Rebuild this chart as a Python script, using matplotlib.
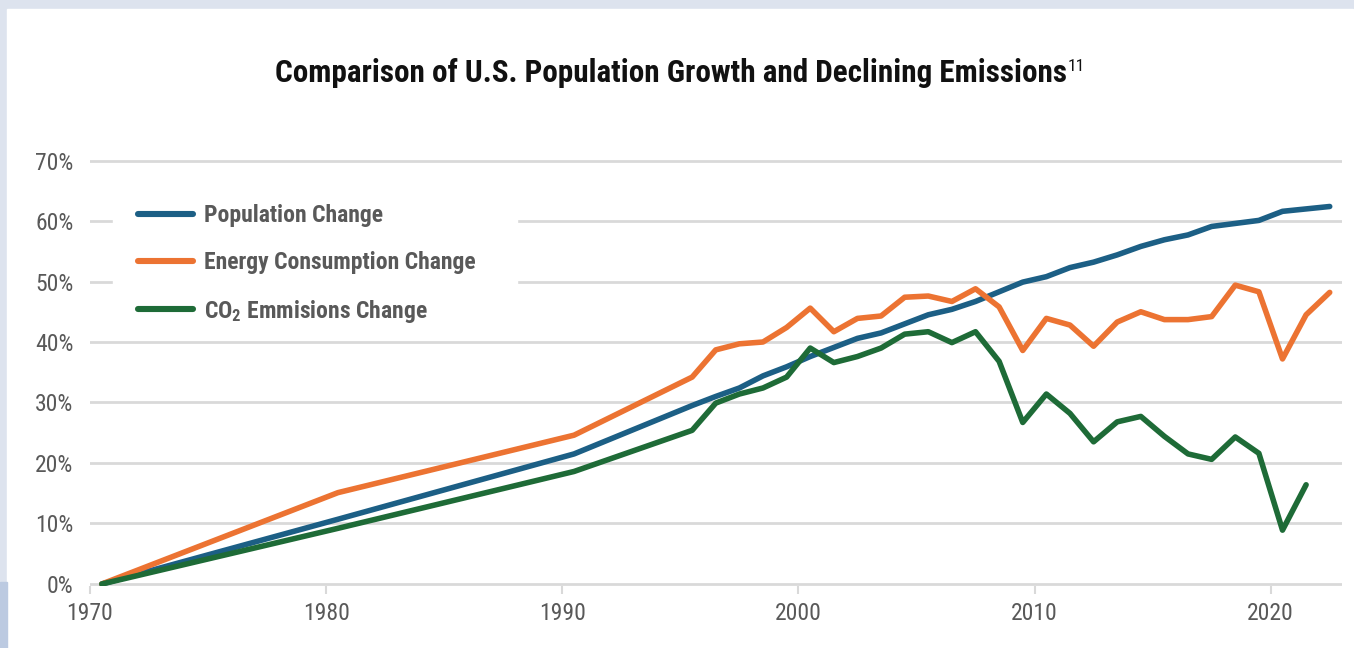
import matplotlib

matplotlib.use("Agg")
import matplotlib.pyplot as plt
import numpy as np
from matplotlib import font_manager
from matplotlib.lines import Line2D
from matplotlib.patches import Rectangle

# values (percent change since 1970)
years = [1970, 1980, 1990, 1995, 1996, 1997, 1998, 1999, 2000, 2001, 2002,
         2003, 2004, 2005, 2006, 2007, 2008, 2009, 2010, 2011, 2012, 2013,
         2014, 2015, 2016, 2017, 2018, 2019, 2020, 2021, 2022]
population = [0, 10.7, 21.5, 29.5, 31.0, 32.4, 34.4, 35.9, 37.6, 39.1, 40.6,
              41.5, 43.0, 44.5, 45.4, 46.7, 48.3, 49.9, 50.8, 52.3, 53.2, 54.4,
              55.8, 56.9, 57.7, 59.1, 59.6, 60.1, 61.6, 62.0, 62.4]
energy = [0, 15.1, 24.6, 34.2, 38.7, 39.7, 40.0, 42.4, 45.6, 41.7, 43.9,
          44.3, 47.4, 47.6, 46.7, 48.8, 45.8, 38.6, 43.9, 42.8, 39.3, 43.3,
          45.0, 43.7, 43.7, 44.2, 49.4, 48.3, 37.2, 44.5, 48.2]
co2 = [0, 9.2, 18.6, 25.4, 29.9, 31.4, 32.4, 34.2, 39.0, 36.6, 37.6,
       39.0, 41.3, 41.7, 39.9, 41.7, 36.8, 26.7, 31.4, 28.2, 23.5, 26.8,
       27.7, 24.4, 21.5, 20.6, 24.3, 21.6, 8.9, 16.4, np.nan]

series_labels = ["Population Change", "Energy Consumption Change",
                 "CO$_2$ Emmisions Change"]
colors = ["#1c5f85", "#ec7332", "#1e6b37"]
y_ticks = [0, 10, 20, 30, 40, 50, 60, 70]
x_ticks = [1970, 1980, 1990, 2000, 2010, 2020]

names = {f.name for f in font_manager.fontManager.ttflist}
narrow = next((n for n in ["Roboto Condensed", "Archivo Narrow", "PT Sans Narrow",
                           "Barlow Condensed", "Asap Condensed"] if n in names), "Roboto")
plt.rcParams["font.family"] = [narrow, "DejaVu Sans"]
plt.rcParams["mathtext.fontset"] = "custom"
plt.rcParams["mathtext.rm"] = f"{narrow}:bold"
plt.rcParams["mathtext.it"] = f"{narrow}:bold"
plt.rcParams["mathtext.bf"] = f"{narrow}:bold"

W, H = 1354, 648
fig = plt.figure(figsize=(W / 100, H / 100), dpi=100, facecolor="#dde3ee")
fig.patches.append(Rectangle((7 / W, 0), (1353 - 7) / W, (H - 9) / H,
                             transform=fig.transFigure, color="white", zorder=-2))
fig.patches.append(Rectangle((0, 0), 7 / W, 66 / H, transform=fig.transFigure,
                             color="#bccae1", zorder=-2))

ax = fig.add_axes([90 / W, 62.2 / H, 1252 / W, 427.1 / H])
ax.set_facecolor("none")

x = np.array(years) + 0.5  # values are placed mid-year
for vals, label, color in zip([population, energy, co2], series_labels, colors):
    ax.plot(x, vals, color=color, lw=4.0, solid_capstyle="round",
            solid_joinstyle="round", label=label, zorder=3)

ax.set_xlim(1970, 2023.02)
ax.set_ylim(-0.3, 70.3)
ax.set_yticks(y_ticks, [f"{v}%" for v in y_ticks])
ax.set_xticks(x_ticks, [str(v) for v in x_ticks])
ax.yaxis.grid(True, color="#d9d9d9", lw=2.0)
ax.set_axisbelow(True)
for side in ax.spines:
    ax.spines[side].set_visible(False)
ax.tick_params(axis="y", length=0, pad=12, labelsize=17, labelcolor="#595959")
ax.tick_params(axis="x", length=5.5, width=1.5, color="#d9d9d9", pad=6,
               labelsize=17, labelcolor="#595959")

# white block behind the legend hides the grid there
ax.add_patch(Rectangle((0.0184, 0.587), 0.3226, 0.351, transform=ax.transAxes,
                       color="white", zorder=2))
handles = [Line2D([], [], color=c, lw=4.4, solid_capstyle="round") for c in colors]
leg = ax.legend(handles, series_labels, loc="upper left", bbox_to_anchor=(0.0386, 0.893),
                frameon=False, handlelength=2.3, handletextpad=0.5,
                labelspacing=1.0, borderpad=0, borderaxespad=0,
                prop={"family": narrow, "weight": "bold", "size": 17})
for t in leg.get_texts():
    t.set_color("#595959")

title = "Comparison of U.S. Population Growth and Declining Emissions"
t1 = fig.text(0, 1 - 82 / H, title, ha="left", va="baseline",
              fontsize=22.4, fontweight="bold", color="#111111")
t2 = fig.text(0, 1 - 71 / H, "11", ha="left", va="baseline",
              fontsize=12.5, color="#111111")
fig.canvas.draw()
r = fig.canvas.get_renderer()
w1 = t1.get_window_extent(r).width
w2 = t2.get_window_extent(r).width
x0 = (W - (w1 + w2 + 1)) / 2 + 3
t1.set_x(x0 / W)
t2.set_x((x0 + w1 + 1) / W)

fig.savefig("out.png", dpi=100, facecolor=fig.get_facecolor())
